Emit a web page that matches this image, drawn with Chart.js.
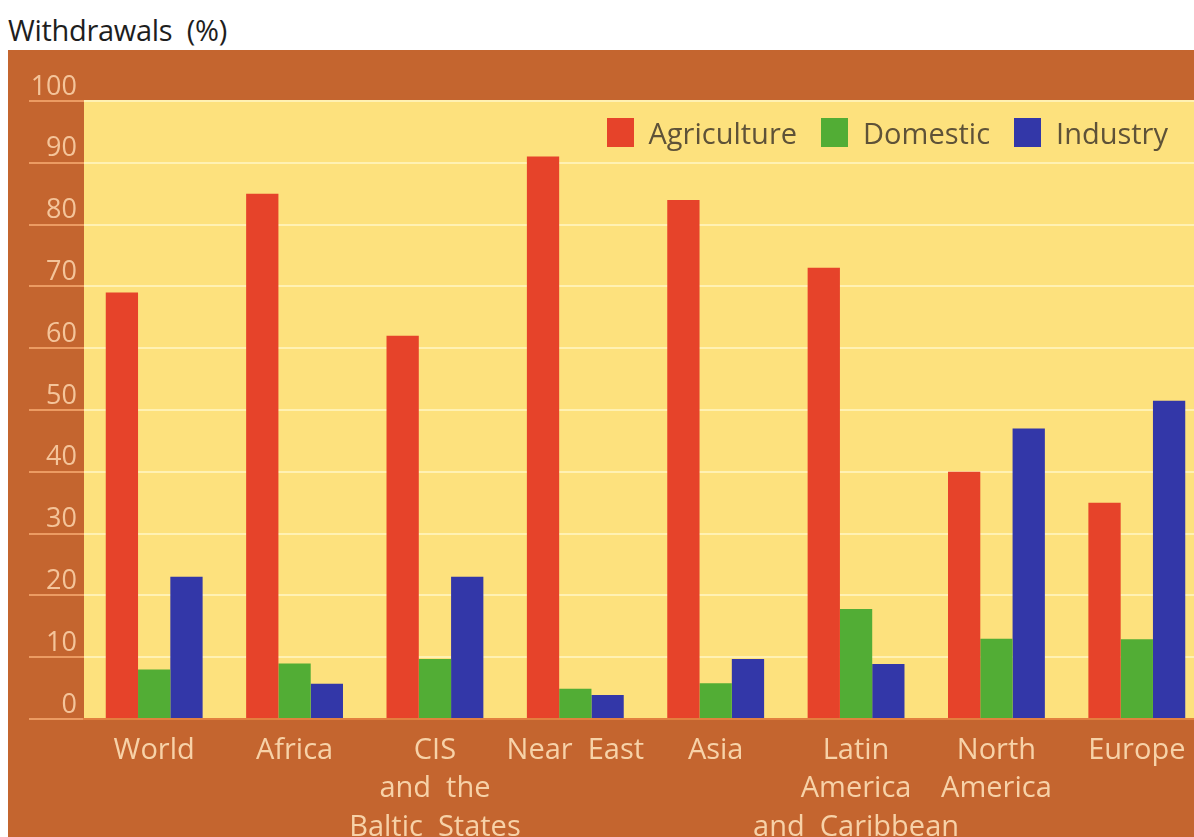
<!DOCTYPE html>
<html lang="en">
<head>
    <meta charset="UTF-8" />
    <title>Withdrawals (%)</title>
    <script src="https://cdn.jsdelivr.net/npm/chart.js"></script>
    <style>
        body {
            margin: 0;
            background: #ffffff;
            overflow: hidden;
            width: 1194px;
            height: 837px;
            position: relative;
            font-family: "Open Sans", sans-serif;
        }

        #title {
            position: absolute;
            left: 8px;
            top: 10px;
            font-size: 29px;
            letter-spacing: -0.3px;
            color: #1e1e1e;
            white-space: pre;
        }

        #chart {
            position: absolute;
            left: 8px;
            top: 50px;
            background: #c4652f;
        }

        #legend {
            position: absolute;
            top: 113px;
            right: 26px;
            display: flex;
            align-items: center;
            gap: 24px;
        }

        .item {
            display: flex;
            align-items: center;
            gap: 15px;
            font-size: 29px;
            color: #5e5238;
        }

        .box {
            width: 27px;
            height: 29px;
        }
    </style>
</head>
<body>

<div id="title">Withdrawals  (%)</div>
<canvas id="chart" width="1210" height="787"></canvas>
<div id="legend"></div>

<script>
    const categories = [
        'World',
        'Africa',
        ['CIS', 'and  the', 'Baltic  States'],
        'Near  East',
        'Asia',
        ['Latin', 'America', 'and  Caribbean'],
        ['North', 'America'],
        'Europe'
    ];
    const agriculture = [69, 85, 62, 91, 84, 73, 40, 35];
    const domestic = [8, 9, 9.7, 4.9, 5.8, 17.8, 13, 12.9];
    const industry = [23, 5.7, 23, 3.9, 9.7, 8.9, 47, 51.5];
    const yTicks = [0, 10, 20, 30, 40, 50, 60, 70, 80, 90, 100];

    const seriesNames = ['Agriculture', 'Domestic', 'Industry'];
    const seriesColors = ['#e6432a', '#52ad35', '#3337a8'];

    // yellow plot background
    const plotBg = {
        id: 'plotBg',
        beforeDraw(chart) {
            const a = chart.chartArea;
            const ctx = chart.ctx;
            ctx.save();
            ctx.fillStyle = '#fde17d';
            ctx.fillRect(a.left, a.top, a.right - a.left, a.bottom - a.top);
            ctx.restore();
        }
    };

    const chart = new Chart(document.getElementById('chart'), {
        type: 'bar',
        data: {
            labels: categories,
            datasets: [agriculture, domestic, industry].map((d, i) => ({
                label: seriesNames[i],
                data: d,
                backgroundColor: seriesColors[i],
                borderWidth: 0
            }))
        },
        options: {
            responsive: false,
            animation: false,
            devicePixelRatio: 1,
            layout: {
                padding: { top: 51, right: 11, left: 0, bottom: 0 }
            },
            datasets: {
                bar: { barPercentage: 1, categoryPercentage: 0.69 }
            },
            plugins: {
                legend: { display: false },
                tooltip: { enabled: false }
            },
            scales: {
                x: {
                    afterFit: s => { s.height = 118; },
                    grid: { display: false },
                    border: { display: true, color: '#e2803f', width: 2 },
                    ticks: {
                        color: '#f7d2a8',
                        padding: 4,
                        maxRotation: 0,
                        autoSkip: false,
                        font: { family: 'Open Sans', size: 29, lineHeight: 1.33 }
                    }
                },
                y: {
                    min: 0,
                    max: 100,
                    afterFit: s => { s.width = 76; },
                    afterBuildTicks: s => { s.ticks = yTicks.map(v => ({ value: v })); },
                    border: { display: false },
                    grid: {
                        color: '#fff1b3',
                        lineWidth: 2,
                        tickColor: '#ec9b62',
                        tickLength: 55
                    },
                    ticks: {
                        color: '#f4c49a',
                        padding: -48,
                        labelOffset: -14,
                        font: { family: 'Open Sans', size: 27 }
                    }
                }
            }
        },
        plugins: [plotBg]
    });

    const legend = document.getElementById('legend');
    chart.data.datasets.forEach(ds => {
        const item = document.createElement('div');
        item.className = 'item';
        const box = document.createElement('div');
        box.className = 'box';
        box.style.background = ds.backgroundColor;
        const txt = document.createElement('span');
        txt.textContent = ds.label;
        item.appendChild(box);
        item.appendChild(txt);
        legend.appendChild(item);
    });
</script>

</body>
</html>
